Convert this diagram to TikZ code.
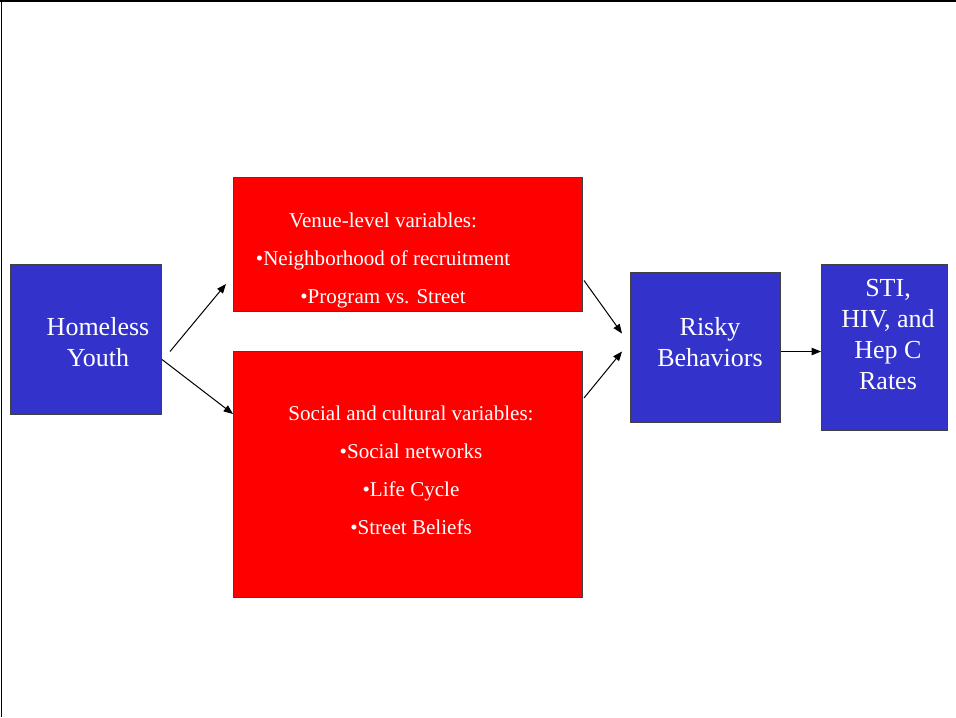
\documentclass[tikz,border=0pt]{standalone}
\usepackage{fontspec}
\setmainfont{Liberation Serif}
\usetikzlibrary{arrows.meta}
\definecolor{boxblue}{RGB}{51,51,204}
\definecolor{boxred}{RGB}{255,0,0}
\tikzset{
  blockbox/.style={draw=black!75, line width=0.75pt, inner sep=0pt, anchor=north west},
  boxsize/.style 2 args={minimum width=#1*0.75pt, minimum height=#2*0.75pt},
  bluebox/.style={blockbox, fill=boxblue},
  redbox/.style={blockbox, fill=boxred},
  bigtext/.style={text=white, align=center, inner sep=0pt, font=\fontsize{19.5}{23.25}\selectfont},
  smalltext/.style={text=white, align=center, inner sep=0pt, font=\fontsize{15.8}{28.5}\selectfont},
  link/.style={-{Triangle[length=7pt,width=5.5pt]}, line width=0.75pt}
}
\begin{document}
\begin{tikzpicture}[x=0.75pt, y=-0.75pt]
  \useasboundingbox (0,0) rectangle (956,717);
  % frame
  \draw[line width=1.2pt] (0,1) -- (956,1);
  \draw[line width=0.6pt] (1,0) -- (1,717);
  % boxes
  \node[bluebox, boxsize={151}{150}] (youth) at (10,264) {};
  \node[redbox, boxsize={349}{134}] (venue) at (233,177) {};
  \node[redbox, boxsize={349}{246}] (social) at (233,351) {};
  \node[bluebox, boxsize={150}{150}] (risky) at (630,272) {};
  \node[bluebox, boxsize={126}{166}] (rates) at (821,264) {};
  % texts
  \node[bigtext] (youthtxt) at (98,342) {Homeless\\Youth};
  \node[smalltext] (venuetxt) at (383,260) {Venue-level variables:\\\textbullet Neighborhood of recruitment\\\textbullet Program vs. Street};
  \node[smalltext] (socialtxt) at (411,470) {Social and cultural variables:\\\textbullet Social networks\\\textbullet Life Cycle\\\textbullet Street Beliefs};
  \node[bigtext] (riskytxt) at (710,342) {Risky\\Behaviors};
  \node[bigtext] (ratestxt) at (888,335) {STI,\\HIV, and\\Hep C\\Rates};
  % connectors
  \draw[link] ([shift={(8,12)}]youth.east) -- ([shift={(-7,-28)}]venue.south west);
  \draw[link] ([shift={(0,20)}]youth.east) -- ([shift={(0,63)}]social.north west);
  \draw[link] ([shift={(1,36)}]venue.east) -- ([shift={(-8,-14)}]risky.west);
  \draw[link] ([shift={(1,47)}]social.north east) -- ([shift={(-8,4)}]risky.west);
  \draw[link] ([shift={(0,4)}]risky.east) -- ([shift={(0,4)}]rates.west);
\end{tikzpicture}
\end{document}
